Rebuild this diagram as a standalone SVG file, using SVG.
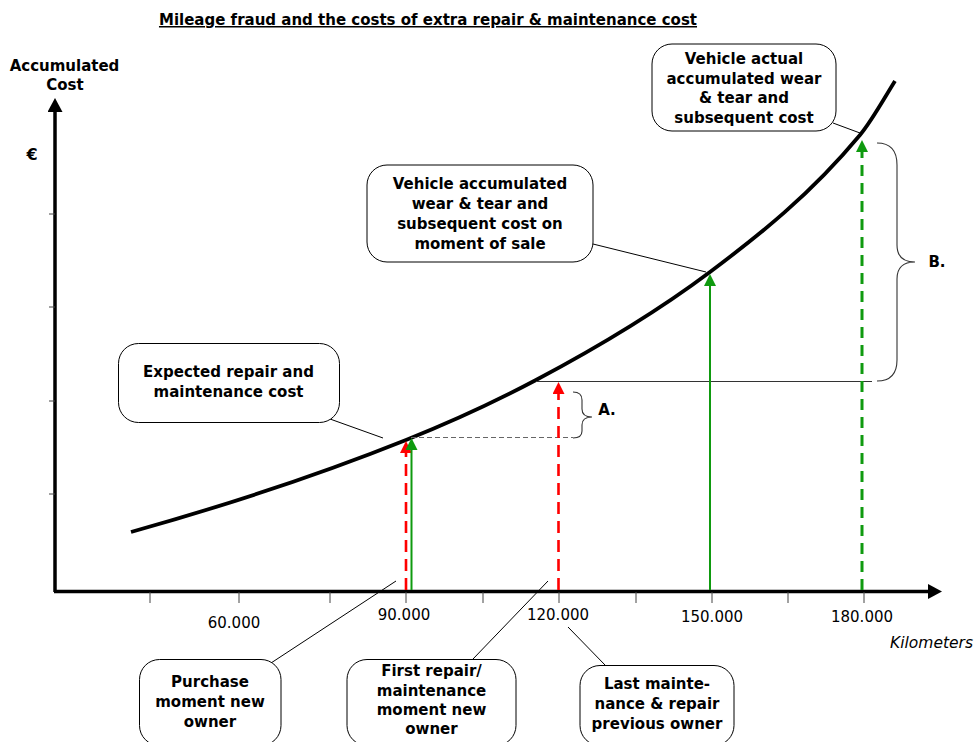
<svg xmlns="http://www.w3.org/2000/svg" width="978" height="742" viewBox="0 0 978 742">
  <style>
    .lbl { font-family: "DejaVu Sans", "Liberation Sans", sans-serif; font-size: 15px; font-weight: bold; fill: #000; text-anchor: middle; }
    .num { font-family: "DejaVu Sans", "Liberation Sans", sans-serif; font-size: 15px; fill: #000; text-anchor: middle; }
    .box { fill: #fff; stroke: #000; stroke-width: 1; }
    .leader { stroke: #000; stroke-width: 1; fill: none; }
    .tick { stroke: #444; stroke-width: 1; }
    .brace { fill: none; stroke: #333; stroke-width: 1.1; }
    .red { stroke: #ff0000; fill: none; }
    .green { stroke: #0f9a0f; fill: none; }
  </style>
  <defs>
    <marker id="headRed" markerUnits="userSpaceOnUse" viewBox="0 0 12 12" refX="0" refY="6" markerWidth="12" markerHeight="12" orient="auto">
      <path d="M0,0 L12,6 L0,12 z" fill="#ff0000"/>
    </marker>
    <marker id="headGreen" markerUnits="userSpaceOnUse" viewBox="0 0 12 12" refX="0" refY="6" markerWidth="12" markerHeight="12" orient="auto">
      <path d="M0,0 L12,6 L0,12 z" fill="#0f9a0f"/>
    </marker>
    <marker id="headAxis" markerUnits="userSpaceOnUse" viewBox="0 0 14 15" refX="0" refY="7.5" markerWidth="14" markerHeight="15" orient="auto">
      <path d="M0,0 L14,7.5 L0,15 z" fill="#000"/>
    </marker>
  </defs>

  <rect width="978" height="742" fill="#fff"/>

  <!-- title -->
  <text x="428" y="25" class="lbl" text-decoration="underline">Mileage fraud and the costs of extra repair &amp; maintenance cost</text>

  <!-- axes -->
  <g id="axes">
    <line x1="55" y1="592" x2="55" y2="112" stroke="#000" stroke-width="3.5" marker-end="url(#headAxis)"/>
    <line x1="54" y1="591.5" x2="928" y2="591.5" stroke="#000" stroke-width="3.5" marker-end="url(#headAxis)"/>
    <g class="tick">
      <line x1="49" y1="214" x2="55" y2="214"/>
      <line x1="49" y1="307" x2="55" y2="307"/>
      <line x1="49" y1="401" x2="55" y2="401"/>
      <line x1="49" y1="494" x2="55" y2="494"/>
      <line x1="150" y1="592" x2="150" y2="603"/>
      <line x1="239" y1="592" x2="239" y2="603"/>
      <line x1="330" y1="592" x2="330" y2="603"/>
      <line x1="406" y1="592" x2="406" y2="603"/>
      <line x1="483" y1="592" x2="483" y2="603"/>
      <line x1="559" y1="592" x2="559" y2="603"/>
      <line x1="636" y1="592" x2="636" y2="603"/>
      <line x1="712" y1="592" x2="712" y2="603"/>
      <line x1="788" y1="592" x2="788" y2="603"/>
      <line x1="864" y1="592" x2="864" y2="603"/>
    </g>
    <text x="64.5" y="71" class="lbl">Accumulated</text>
    <text x="65" y="90" class="lbl">Cost</text>
    <text x="32" y="160" class="lbl" style="font-size:16px">€</text>
    <text x="234" y="628" class="num">60.000</text>
    <text x="404" y="620" class="num">90.000</text>
    <text x="558" y="620" class="num">120.000</text>
    <text x="712" y="622" class="num">150.000</text>
    <text x="862" y="622" class="num">180.000</text>
    <text x="973" y="648" class="num" style="text-anchor:end;font-style:italic;font-size:15.5px">Kilometers</text>
  </g>

  <!-- cost curve -->
  <path id="cost-curve" d="M131,532 C222.7,506.3 314.3,476.7 406,440 C449.3,422.7 492.7,403 536,380 C594,349.3 652,315.5 710,272 C760,234.5 810,195 860,135 C871.7,121 883.3,99.7 895,81" fill="none" stroke="#000" stroke-width="3.8"/>

  <!-- reference levels and braces -->
  <g id="gaps">
    <line x1="411" y1="437.5" x2="573" y2="437.5" stroke="#666" stroke-width="1" stroke-dasharray="5,3"/>
    <line x1="536" y1="381.5" x2="872" y2="381.5" stroke="#333" stroke-width="1"/>
    <path class="brace" d="M573,392 C579,392 582,395 582,400 L582,409 C582,414 585,417 592,417 C585,417 582,420 582,425 L582,431 C582,435 579,438 573,438"/>
    <path class="brace" d="M877,143 C890,143 897,150 897,165 L897,245 C897,256 903,262 915,262 C903,262 897,268 897,279 L897,360 C897,374 890,381 877,381"/>
    <text x="607" y="415" class="lbl">A.</text>
    <text x="937" y="267" class="lbl">B.</text>
  </g>

  <!-- connectors: mileage arrows and callout leaders -->
  <g id="connectors">
    <line class="red" x1="406" y1="590" x2="406" y2="453" stroke-width="2.6" stroke-dasharray="12,7" marker-end="url(#headRed)"/>
    <line class="green" x1="411.5" y1="590" x2="411.5" y2="450" stroke-width="2" marker-end="url(#headGreen)"/>
    <line class="red" x1="558.5" y1="590" x2="558.5" y2="394" stroke-width="2.6" stroke-dasharray="12,7" marker-end="url(#headRed)"/>
    <line class="green" x1="710" y1="590" x2="710" y2="286" stroke-width="2" marker-end="url(#headGreen)"/>
    <line class="green" x1="862" y1="590" x2="862" y2="152" stroke-width="3" stroke-dasharray="11,7" marker-end="url(#headGreen)"/>

    <line class="leader" x1="833" y1="123" x2="860" y2="133"/>
    <line class="leader" x1="593" y1="244" x2="706" y2="272"/>
    <line class="leader" x1="330" y1="419" x2="383" y2="438"/>
    <line class="leader" x1="271" y1="663" x2="396" y2="581"/>
    <line class="leader" x1="473" y1="659" x2="548" y2="581"/>
    <line class="leader" x1="568" y1="627" x2="605" y2="665"/>
  </g>

  <!-- callouts -->
  <g id="actual-cost">
    <rect class="box" x="652" y="44" width="184" height="87" rx="20"/>
    <text x="744" y="63.5" class="lbl">Vehicle actual</text>
    <text x="744" y="83.5" class="lbl">accumulated wear</text>
    <text x="744" y="103" class="lbl">&amp; tear and</text>
    <text x="744" y="122.5" class="lbl">subsequent cost</text>
  </g>
  <g id="sale-cost">
    <rect class="box" x="367" y="165" width="226" height="97" rx="20"/>
    <text x="480" y="189" class="lbl">Vehicle accumulated</text>
    <text x="480" y="209" class="lbl">wear &amp; tear and</text>
    <text x="480" y="229" class="lbl">subsequent cost on</text>
    <text x="480" y="248.5" class="lbl">moment of sale</text>
  </g>
  <g id="expected-cost">
    <rect class="box" x="118.5" y="343.5" width="221" height="79" rx="20"/>
    <text x="228.5" y="377" class="lbl">Expected repair and</text>
    <text x="228.5" y="397" class="lbl">maintenance cost</text>
  </g>
  <g id="purchase">
    <rect class="box" x="139.5" y="659.5" width="141.5" height="86" rx="20"/>
    <text x="210" y="687" class="lbl">Purchase</text>
    <text x="210" y="707" class="lbl">moment new</text>
    <text x="210" y="727" class="lbl">owner</text>
  </g>
  <g id="first-repair">
    <rect class="box" x="347" y="659.5" width="169" height="86" rx="20"/>
    <text x="431.5" y="676" class="lbl">First repair/</text>
    <text x="431.5" y="696" class="lbl">maintenance</text>
    <text x="431.5" y="715" class="lbl">moment new</text>
    <text x="431.5" y="734" class="lbl">owner</text>
  </g>
  <g id="last-maintenance">
    <rect class="box" x="580" y="665.5" width="154" height="80" rx="20"/>
    <text x="657" y="689" class="lbl">Last mainte-</text>
    <text x="657" y="709" class="lbl">nance &amp; repair</text>
    <text x="657" y="729" class="lbl">previous owner</text>
  </g>
</svg>
